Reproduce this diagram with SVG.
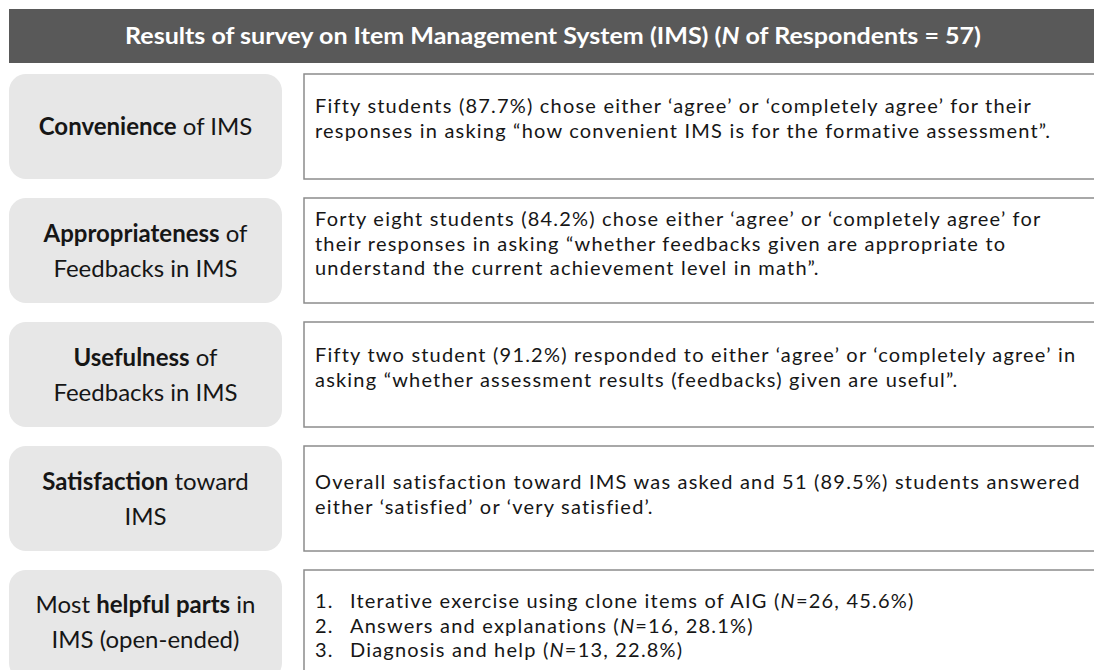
<svg xmlns="http://www.w3.org/2000/svg" width="1094" height="670" viewBox="0 0 1094 670">
<style>
.bg{fill:#ffffff}
.hdr{fill:#595959}
.title{font-family:Lato,"Liberation Sans",sans-serif;font-size:23px;font-weight:bold;fill:#ffffff;text-anchor:middle}
.lbox{fill:#e7e7e7}
.rbox{fill:#ffffff;stroke:#8c8c8c;stroke-width:1.5}
.lab{font-family:Lato,"Liberation Sans",sans-serif;font-size:24px;fill:#161616;text-anchor:middle}
.body{font-family:Lato,"Liberation Sans",sans-serif;font-size:20px;letter-spacing:1.2px;fill:#161616}
.b{font-weight:bold}
.i{font-style:italic}
</style>
<rect class="bg" x="0" y="0" width="1094" height="670"/>
<g id="header">
<rect class="hdr" x="9" y="9" width="1090" height="54"/>
<text class="title" x="553" y="44" textLength="856" lengthAdjust="spacingAndGlyphs">Results of survey on Item Management System (IMS) (<tspan class="i">N</tspan> of Respondents = 57)</text>
</g>
<g id="row-convenience">
<rect class="lbox" x="9" y="74" width="273" height="105" rx="17"/>
<text class="lab" x="145.5" y="135"><tspan class="b">Convenience</tspan> of IMS</text>
<rect class="rbox" x="304" y="74" width="800" height="105"/>
<text class="body" x="315" y="113">Fifty students (87.7%) chose either ‘agree’ or ‘completely agree’ for their</text>
<text class="body" x="315" y="137.5">responses in asking “how convenient IMS is for the formative assessment”.</text>
</g>
<g id="row-appropriateness">
<rect class="lbox" x="9" y="198" width="273" height="105" rx="17"/>
<text class="lab" x="145.5" y="242"><tspan class="b">Appropriateness</tspan> of</text>
<text class="lab" x="145.5" y="277">Feedbacks in IMS</text>
<rect class="rbox" x="304" y="198" width="800" height="105"/>
<text class="body" x="315" y="226">Forty eight students (84.2%) chose either ‘agree’ or ‘completely agree’ for</text>
<text class="body" x="315" y="250.5">their responses in asking “whether feedbacks given are appropriate to</text>
<text class="body" x="315" y="275">understand the current achievement level in math”.</text>
</g>
<g id="row-usefulness">
<rect class="lbox" x="9" y="322" width="273" height="105" rx="17"/>
<text class="lab" x="145.5" y="366"><tspan class="b">Usefulness</tspan> of</text>
<text class="lab" x="145.5" y="401">Feedbacks in IMS</text>
<rect class="rbox" x="304" y="322" width="800" height="105"/>
<text class="body" x="315" y="362">Fifty two student (91.2%) responded to either ‘agree’ or ‘completely agree’ in</text>
<text class="body" x="315" y="386.5">asking “whether assessment results (feedbacks) given are useful”.</text>
</g>
<g id="row-satisfaction">
<rect class="lbox" x="9" y="446" width="273" height="105" rx="17"/>
<text class="lab" x="145.5" y="490"><tspan class="b">Satisfaction</tspan> toward</text>
<text class="lab" x="145.5" y="525">IMS</text>
<rect class="rbox" x="304" y="446" width="800" height="105"/>
<text class="body" x="315" y="489">Overall satisfaction toward IMS was asked and 51 (89.5%) students answered</text>
<text class="body" x="315" y="513.5">either ‘satisfied’ or ‘very satisfied’.</text>
</g>
<g id="row-helpful">
<rect class="lbox" x="9" y="570" width="273" height="110" rx="17"/>
<text class="lab" x="145.5" y="613">Most <tspan class="b">helpful parts</tspan> in</text>
<text class="lab" x="145.5" y="648">IMS (open-ended)</text>
<rect class="rbox" x="304" y="570" width="800" height="110"/>
<text class="body" x="315" y="608">1.</text>
<text class="body" x="350" y="608">Iterative exercise using clone items of AIG (<tspan class="i">N</tspan>=26, 45.6%)</text>
<text class="body" x="315" y="632.5">2.</text>
<text class="body" x="350" y="632.5">Answers and explanations (<tspan class="i">N</tspan>=16, 28.1%)</text>
<text class="body" x="315" y="657">3.</text>
<text class="body" x="350" y="657">Diagnosis and help (<tspan class="i">N</tspan>=13, 22.8%)</text>
</g>
<g id="connectors"/>
</svg>
